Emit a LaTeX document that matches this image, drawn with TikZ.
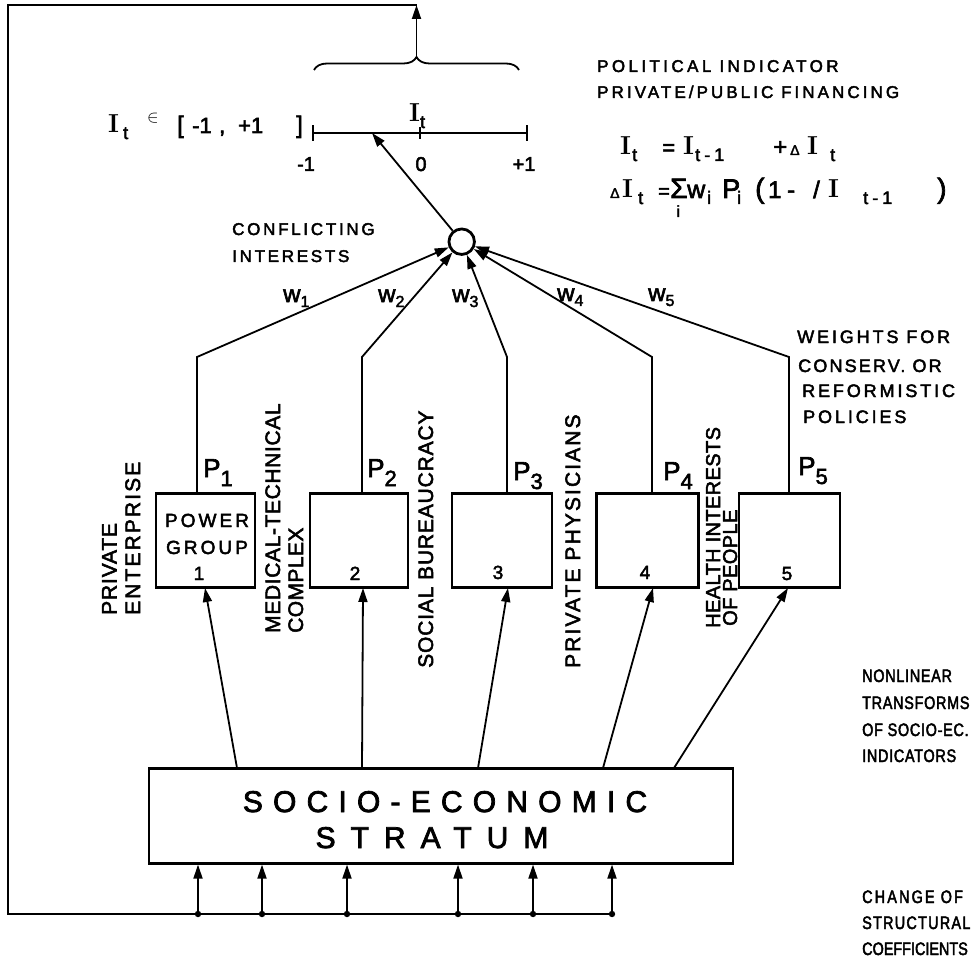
\documentclass[tikz,border=0pt]{standalone}
\usepackage{amsmath}
\usepackage{fontspec}
\usetikzlibrary{arrows.meta,decorations.pathreplacing}
\newfontfamily\din{Liberation Sans}[FakeBold=2.5]
\newcommand{\df}[2]{\din\addfontfeature{LetterSpace=#2}\fontsize{#1}{#1}\selectfont}
\newcommand{\dfn}[2]{\din\addfontfeatures{LetterSpace=#2,FakeStretch=0.8}\fontsize{#1}{#1}\selectfont}
\newcommand{\lsbx}[3]{\raisebox{-#2}{\fontsize{#1}{#1}\selectfont #3}}
\newcommand{\lsb}[1]{\lsbx{18}{6pt}{#1}}
\newcommand{\bI}{{\fontsize{26}{26}\rmfamily\bfseries\selectfont I}}
\newcommand{\smD}{{\fontsize{14}{14}\selectfont Δ}}
\newcommand{\fs}[2]{{\fontsize{#1}{#1}\selectfont #2}}
\begin{document}
\begin{tikzpicture}[x=1pt,y=-1pt,
  ln/.style={line width=1.8pt},
  arr/.style={line width=1.8pt,-{Triangle[length=14pt,width=9pt]}},
  grp/.style={draw,line width=2.6pt,minimum height=93.5pt,inner sep=0pt},
  txt/.style={inner sep=0pt,anchor=base west},
  ctx/.style={inner sep=0pt,anchor=base},
  rot/.style={inner sep=0pt,anchor=base west,rotate=90},
]
\useasboundingbox (0,0) rectangle (976,965);

% group boxes
\node[grp,minimum width=99pt] (b1) at (205.5,540.5) {};
\node[grp,minimum width=98pt] (b2) at (359,540.5) {};
\node[grp,minimum width=100pt] (b3) at (502,540.5) {};
\node[grp,minimum width=101.5pt] (b4) at (647.5,540.5) {};
\node[grp,minimum width=101pt] (b5) at (789.5,540.5) {};
\node[grp,minimum width=584pt,minimum height=95pt] (se) at (441,815.8) {};

% summing circle
\node[circle,draw,line width=2.8pt,minimum size=25.5pt,inner sep=0pt] (ci) at (461.7,241.7) {};

% outputs of groups to circle
\coordinate (k1) at (197,357);
\coordinate (k2) at (362,357);
\coordinate (k3) at (507,357);
\coordinate (k4) at (652,357);
\coordinate (k5) at (789,357);
\foreach \i in {1,...,5} {\draw[arr] (b\i.north -| k\i) -- (k\i) -- (ci);}

% scale
\coordinate (sL) at (313,133);
\coordinate (sR) at (527,133);
\coordinate (s0) at (420,133);
\coordinate (sa) at (372,133);
\draw[ln] (sL) -- (sR);
\draw[ln] ([yshift=-8pt]sL) -- ([yshift=8pt]sL);
\draw[ln] ([yshift=-8pt]sR) -- ([yshift=8pt]sR);
\draw[ln] ([yshift=-6pt]s0) -- ([yshift=6pt]s0);
\draw[arr] (ci) -- (sa);

% brace and feedback
\coordinate (brL) at (314,70);
\coordinate (brR) at (519,70);
\draw[ln,decorate,decoration={brace,amplitude=13pt}] (brL) -- (brR);
\coordinate (brT) at (416.5,57);
\coordinate (fbA) at (416.5,5);
\coordinate (fbB) at (8,5);
\coordinate (fbC) at (8,914);
\draw[arr] (brT) -- (fbA);

% bottom inputs
\foreach \i/\x in {1/198,2/262,3/347,4/458,5/533,6/612} {\coordinate (d\i) at (\x,914);}
\foreach \i in {1,...,6} {\fill (d\i) circle (3.2pt); \draw[arr] (d\i) -- (d\i |- se.south);}
\draw[ln] (fbA) -- (fbB) -- (fbC) -- (d6);

% stratum to groups
\foreach \i/\a/\b in {1/237/205,2/362/363,3/478/508,4/603/653,5/674/788} {
  \coordinate (u\i) at (\a,768);
  \coordinate (v\i) at (\b,588);
  \draw[arr] (u\i) -- (v\i);
}

% top texts
\node[txt,font=\df{17}{20}] (tpol) at (597,72) {POLITICAL INDICATOR};
\node[txt,font=\df{17}{18}] (tppf) at (597,98) {PRIVATE/PUBLIC FINANCING};
\node[txt,font=\df{24}{0}] (f1) at (620,155) {\makebox[12pt][l]{\bI}\makebox[30pt][l]{\lsb{t}}\makebox[21pt][l]{\fs{22}{=}}\makebox[12pt][l]{\bI}\makebox[78pt][l]{\lsb{t\hspace{4pt}-\hspace{4pt}1}}\makebox[17pt][l]{+}\makebox[17pt][l]{\smD}\makebox[23pt][l]{\bI}\lsb{t}};
\node[txt,font=\df{24}{0}] (f2) at (610,198) {\makebox[12pt][l]{\smD}\makebox[16pt][l]{\bI}\makebox[20pt][l]{\lsb{t}}\makebox[12pt][l]{\fs{20}{=}}\makebox[17pt][l]{\fs{28}{Σ}\hspace{-11pt}\lsbx{16}{19pt}{i}}\makebox[20pt][l]{\fs{25}{w}}\makebox[15pt][l]{\lsb{i}}\makebox[15pt][l]{\fs{27}{P}}\makebox[18pt][l]{\lsb{i}}\makebox[13pt][l]{\fs{28}{(}}\makebox[19pt][l]{1}\makebox[26pt][l]{-}\makebox[15pt][l]{/}\makebox[35pt][l]{\bI}\makebox[74pt][l]{\lsb{t\hspace{4pt}-\hspace{4pt}1}}\fs{28}{)}};

\node[txt,font=\df{22}{0}] (rng) at (108,133) {\makebox[15pt][l]{\bI}\makebox[24pt][l]{\lsb{t}}\makebox[30pt][l]{\raisebox{10pt}{\fs{16}{$\in$}}}\makebox[15pt][l]{\fs{24}{[}}\makebox[27pt][l]{-1}\makebox[19pt][l]{,}\makebox[58pt][l]{+1}\fs{24}{]}};
\node[txt,font=\df{20}{0}] (itl) at (409,122) {\bI\lsb{t}};
\node[ctx,font=\df{20}{0}] (lm1) at (306,171) {-1};
\node[ctx,font=\df{20}{0}] (l0) at (421,171) {0};
\node[ctx,font=\df{20}{0}] (lp1) at (524,171) {+1};

\node[txt,font=\df{17}{16}] (c1) at (232,235) {CONFLICTING};
\node[txt,font=\df{17}{16}] (c2) at (232,262) {INTERESTS};

% weights
\node[txt,font=\df{24}{0}] (w1) at (283,302) {w\lsbx{16}{5pt}{1}};
\node[txt,font=\df{24}{0}] (w2) at (378,302) {w\lsbx{16}{5pt}{2}};
\node[txt,font=\df{24}{0}] (w3) at (452,302) {w\lsbx{16}{5pt}{3}};
\node[txt,font=\df{24}{0}] (w4) at (557,301) {w\lsbx{16}{5pt}{4}};
\node[txt,font=\df{24}{0}] (w5) at (648,301) {w\lsbx{16}{5pt}{5}};

% P labels
\node[txt,font=\df{26}{0}] (p1) at (203,477) {P\lsbx{22}{9pt}{1}};
\node[txt,font=\df{26}{0}] (p2) at (367,477) {P\lsbx{22}{9pt}{2}};
\node[txt,font=\df{26}{0}] (p3) at (513,480) {P\lsbx{22}{9pt}{3}};
\node[txt,font=\df{26}{0}] (p4) at (663,480) {P\lsbx{22}{9pt}{4}};
\node[txt,font=\df{26}{0}] (p5) at (798,475) {P\lsbx{22}{9pt}{5}};

% box contents
\node[ctx,font=\df{19}{16}] (pg1) at (207,527) {POWER};
\node[ctx,font=\df{19}{16}] (pg2) at (207,554) {GROUP};
\node[ctx,font=\df{19}{0}] (n1) at (199,580) {1};
\node[ctx,font=\df{19}{0}] (n2) at (355,580) {2};
\node[ctx,font=\df{19}{0}] (n3) at (498,579) {3};
\node[ctx,font=\df{19}{0}] (n4) at (645,579) {4};
\node[ctx,font=\df{19}{0}] (n5) at (787,580) {5};

% rotated labels
\node[rot,font=\df{21}{4}] (r1) at (116.5,615) {PRIVATE};
\node[rot,font=\df{21}{10}] (r2) at (140,615) {ENTERPRISE};
\node[rot,font=\df{21}{3}] (r3) at (280,633) {MEDICAL-TECHNICAL};
\node[rot,font=\df{21}{2}] (r4) at (303,633) {COMPLEX};
\node[rot,font=\df{21}{4}] (r5) at (433,668) {SOCIAL BUREAUCRACY};
\node[rot,font=\df{21}{10}] (r6) at (580,668) {PRIVATE PHYSICIANS};
\node[rot,font=\df{20}{2}] (r7) at (720,628) {HEALTH INTERESTS};
\node[rot,font=\df{20}{2}] (r8) at (737,626) {OF PEOPLE};

% right texts
\node[txt,font=\df{18}{16}] (q1) at (797,343) {WEIGHTS FOR};
\node[txt,font=\df{18}{12}] (q2) at (798,372) {CONSERV. OR};
\node[txt,font=\df{18}{16}] (q3) at (802,397) {REFORMISTIC};
\node[txt,font=\df{18}{16}] (q4) at (803,423) {POLICIES};

\node[txt,font=\dfn{18}{4}] (m1) at (862,682) {NONLINEAR};
\node[txt,font=\dfn{18}{4}] (m2) at (862,709) {TRANSFORMS};
\node[txt,font=\dfn{18}{4}] (m3) at (862,736) {OF SOCIO-EC.};
\node[txt,font=\dfn{18}{4}] (m4) at (862,762) {INDICATORS};

\node[txt,font=\dfn{18}{12}] (h1) at (862,903) {CHANGE OF};
\node[txt,font=\dfn{18}{7}] (h2) at (862,929) {STRUCTURAL};
\node[txt,font=\dfn{18}{0}] (h3) at (862,955) {COEFFICIENTS};

% stratum text
\node[ctx,font=\df{30}{34}] (se1) at (445,812) {SOCIO-ECONOMIC};
\node[ctx,font=\df{30}{50}] (se2) at (432,848) {STRATUM};
\end{tikzpicture}
\end{document}
